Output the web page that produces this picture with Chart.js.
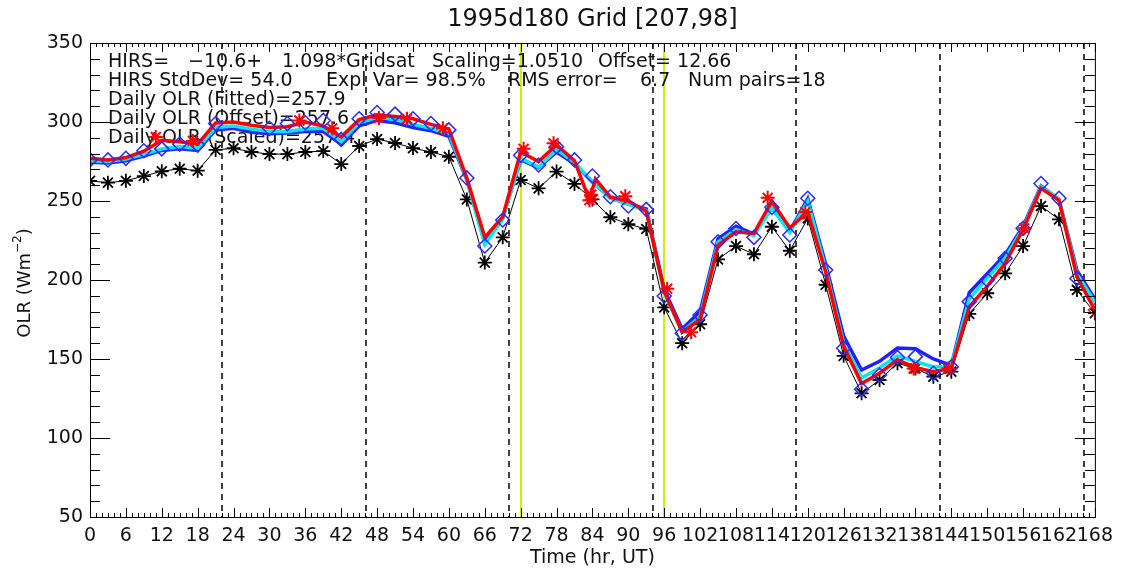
<!DOCTYPE html>
<html><head><meta charset="utf-8">
<script src="https://cdn.jsdelivr.net/npm/chart.js@4.4.0/dist/chart.umd.min.js"></script>
<style>html,body{margin:0;padding:0;background:#fff;}canvas{display:block;}</style>
</head><body>
<canvas id="c" width="1121" height="572"></canvas>
<script>
// ---------------- data ----------------
const titleText = "1995d180 Grid [207,98]";
const xTickLabels = [0,6,12,18,24,30,36,42,48,54,60,66,72,78,84,90,96,102,108,114,120,126,132,138,144,150,156,162,168];
const yTickLabels = [50,100,150,200,250,300,350];

const hours3 = [0,3,6,9,12,15,18,21,24,27,30,33,36,39,42,45,48,51,54,57,60,63,66,69,72,75,78,81,84,87,90,93,96,99,102,105,108,111,114,117,120,123,126,129,132,135,138,141,144,147,150,153,156,159,162,165,168];
const gridsat = [262.7,261.6,262.8,265.8,268.8,270.4,269.2,282.3,283.4,281,279.7,279.7,281,281.6,273.4,284.8,289.2,286.7,283.5,281,278,251,211,227,263.3,258,268.6,260.8,251,239.7,235.3,232.3,182.7,160,172,213,221.5,216.3,233.7,218.5,239,197,152,128.3,136.7,147.3,144,138.8,142,178.5,191.6,204.2,221.5,246.8,238.4,193.7,179];
const scaledOLR = [275.5,275,276.5,279.5,283,284.5,283.5,296.5,297.5,295.5,294,294,295.5,296,287.5,299.5,303,301.5,298.5,296,292.5,264,222.5,238.5,277,271.5,282.5,274.5,262,252,248,244,192,167,177,224,232,228,245.5,230,250,207,160,138,144.5,152,148.5,145,145.5,188,201,214,233,259,251,204,186];
const offsetOLR = [274.5,274,275.5,278.5,282,283,282,295,296,293.5,292.5,293,294,294,286,297.5,301,299.5,296.5,294.5,291,263.5,224,239.5,276,271,281,273.5,262,252,248,245,194,169,180,226,234,229,246,231,251.5,210,164.5,143,148.5,157,156.5,150,146,192,204,216,234,259.5,251,206,188];

const fittedHours = [0,3,6,9,12,15,18,21,24,27,30,33,36,39,42,45,48,51,54,57,60,63,66,69,72,75,78,81,83.5,84.5,87,90,93,96,99,102,105,108,111,114,117,120,123,126,129,132,135,138,141,144,147,150,153,156,159,162,165,168];
const fittedOLR = [277,276,277.5,281.5,288.5,287.5,286,299.4,300,298,296.5,297,300,297.5,290.5,301.5,304.5,303.5,302,298.5,295.5,264.5,227,240,281,275,285.5,275.5,250.5,264,252.5,250,243.5,193,167,175,222,230.5,229.5,250,233,243,205,158,134.5,141,149.5,144.5,142,144,183,196,210.5,232,258,250.5,202,181];

const hirsHours = [0,3,6,9,12,15,18,21,30,33,36,39,42,45,48,51,54,57,60,63,66,69,72,75,78,81,84,87,90,93,96,99,102,105,108,111,114,117,120,123,126,129,132,135,138,141,144,147,150,153,156,159,162,165];
const hirsOLR = [276,276,277,281.8,283,286,285.4,299,296,299,299.5,301,289,302,306,305,302,299,295,264.6,221.5,238,279,272.8,284.4,276,265.8,252.7,246.8,244.7,189.9,166.3,177.8,224.2,232.6,227,246,228.5,251.7,206.3,156.8,130.8,139.9,151,151.5,141,145,186.3,200,213.7,232.7,261.1,251.7,201];

const pairHours = [11,17.2,35,40.5,48.3,53,59,72.5,77.5,83.5,83.8,89.5,96.5,100.5,113.3,119.6,137.7,143.5,156.2];
const pairOLR = [290.5,288,301,296,302.5,302,296,283,286.5,250.5,254,253,194.5,167,252,243,144,144,232.7];

const endHours = [168];
const endOLR = [181];

const dayLines = [22.1,46.1,70.1,94.1,118.1,142.1,166.1];
const markLines = [72,96];

const infoLines = [
  [["HIRS=",108],["\u221210.6+",188],["1.098*Gridsat",282],["Scaling=1.0510",432],["Offset= 12.66",598]],
  [["HIRS StdDev= 54.0",108],["Expl Var= 98.5%",326],["RMS error=",508],["6.7",640],["Num pairs=18",688]],
  [["Daily OLR (Fitted)=257.9",108]],
  [["Daily OLR (Offset)=257.6",108]],
  [["Daily OLR (Scaled)=257.4",108]]
];
const infoY = [62,81,100,119,138];

// ---------------- chart ----------------
const pts = (xs, ys) => xs.map((h,i)=>({x:h,y:ys[i]}));
const FONT = "'DejaVu Sans', sans-serif";

const overlay = {
  id:'overlay',
  beforeDatasetsDraw(chart){
    const {ctx, chartArea:a, scales:{x}} = chart;
    ctx.save();
    ctx.strokeStyle = '#000'; ctx.lineWidth = 1.5; ctx.setLineDash([6,5]);
    dayLines.forEach(h=>{
      const px = Math.round(x.getPixelForValue(h));
      ctx.beginPath(); ctx.moveTo(px,a.top); ctx.lineTo(px,a.bottom); ctx.stroke();
    });
    ctx.setLineDash([]); ctx.strokeStyle = '#ccf000'; ctx.lineWidth = 2;
    markLines.forEach(h=>{
      const px = Math.round(x.getPixelForValue(h));
      ctx.beginPath(); ctx.moveTo(px,a.top); ctx.lineTo(px,a.bottom); ctx.stroke();
    });
    ctx.fillStyle = '#111'; ctx.font = "19px " + FONT; ctx.textBaseline = 'middle'; ctx.textAlign='left';
    infoLines.forEach((segs,i)=>segs.forEach(s=>ctx.fillText(s[0], s[1], infoY[i])));
    ctx.restore();
  },
  afterDraw(chart){
    const {ctx, chartArea:a, scales:{x,y}} = chart;
    ctx.save();
    ctx.strokeStyle = '#000'; ctx.lineWidth = 1;
    ctx.strokeRect(a.left+0.5, a.top+0.5, a.right-a.left, a.bottom-a.top);
    ctx.beginPath();
    for (let v = y.min; v <= y.max; v += 10) {
      const py = Math.round(y.getPixelForValue(v)) + 0.5;
      const len = (v % 50 === 0) ? 20 : 10;
      ctx.moveTo(a.left, py); ctx.lineTo(a.left+len, py);
      ctx.moveTo(a.right, py); ctx.lineTo(a.right-len, py);
    }
    for (let h = x.min; h <= x.max; h += 1) {
      const px = Math.round(x.getPixelForValue(h)) + 0.5;
      const len = (h % 6 === 0) ? 9 : 4;
      ctx.moveTo(px, a.bottom); ctx.lineTo(px, a.bottom-len);
      ctx.moveTo(px, a.top); ctx.lineTo(px, a.top+len);
    }
    ctx.stroke();
    ctx.fillStyle = '#111'; ctx.textAlign = 'center'; ctx.textBaseline = 'middle';
    ctx.font = "24px " + FONT;
    ctx.fillText(titleText, (a.left+a.right)/2, 20);
    ctx.font = "19px " + FONT;
    ctx.fillText("Time (hr, UT)", (a.left+a.right)/2, 558);
    ctx.translate(25, 283); ctx.rotate(-Math.PI/2);
    const p1 = "OLR (Wm", sup = "\u22122", p2 = ")";
    ctx.font = "18px " + FONT; const w1 = ctx.measureText(p1).width, w3 = ctx.measureText(p2).width;
    ctx.font = "12px " + FONT; const w2 = ctx.measureText(sup).width;
    const tot = w1+w2+w3; let sx = -tot/2;
    ctx.textAlign = 'left';
    ctx.font = "18px " + FONT; ctx.fillText(p1, sx, 0); sx += w1;
    ctx.font = "12px " + FONT; ctx.fillText(sup, sx, -7); sx += w2;
    ctx.font = "18px " + FONT; ctx.fillText(p2, sx, 0);
    ctx.restore();
  }
};

new Chart(document.getElementById('c'), {
  type:'line',
  data:{datasets:[
    {label:'pairs', data:pts(pairHours,pairOLR), showLine:false, pointStyle:'star', pointRadius:7, pointBorderWidth:2, borderColor:'#ff0000', order:0},
    {label:'end', data:pts(endHours,endOLR), showLine:false, pointStyle:'rectRot', pointRadius:6.5, pointBorderWidth:1.5, borderColor:'#ff2020', backgroundColor:'rgba(0,0,0,0)', order:1},
    {label:'HIRS', data:pts(hirsHours,hirsOLR), showLine:false, pointStyle:'rectRot', pointRadius:7, pointBorderWidth:1.5, borderColor:'#2a2aff', backgroundColor:'rgba(0,0,0,0)', order:2},
    {label:'Fitted', data:pts(fittedHours,fittedOLR), borderColor:'#ff0000', borderWidth:3.5, pointRadius:0, tension:0, order:3},
    {label:'Scaled', data:pts(hours3,scaledOLR), borderColor:'#00e8f0', borderWidth:3.5, pointRadius:0, tension:0, order:4},
    {label:'Offset', data:pts(hours3,offsetOLR), borderColor:'#2020ff', borderWidth:3.5, pointRadius:0, tension:0, order:5},
    {label:'Gridsat', data:pts(hours3,gridsat), borderColor:'#000', borderWidth:1, pointStyle:'star', pointRadius:7, pointBorderWidth:1.8, pointBorderColor:'#000', tension:0, order:6}
  ]},
  options:{
    responsive:false, animation:false, devicePixelRatio:1,
    layout:{padding:{top:43,right:22,left:0,bottom:0}},
    plugins:{legend:{display:false}, tooltip:{enabled:false}, title:{display:false}},
    scales:{
      x:{type:'linear', min:0, max:168,
        afterBuildTicks:s=>{s.ticks = xTickLabels.map(v=>({value:v}));},
        afterFit:s=>{s.height = 55;},
        grid:{display:false, drawTicks:false}, border:{display:false},
        ticks:{autoSkip:false, maxRotation:0, minRotation:0, padding:8, color:'#111', font:{family:FONT, size:19}}},
      y:{type:'linear', min:50, max:350,
        afterBuildTicks:s=>{s.ticks = yTickLabels.map(v=>({value:v}));},
        afterFit:s=>{s.width = 90;},
        grid:{display:false, drawTicks:false}, border:{display:false},
        ticks:{padding:7, color:'#111', font:{family:FONT, size:19}}}
    }
  },
  plugins:[overlay]
});
</script>
</body></html>
